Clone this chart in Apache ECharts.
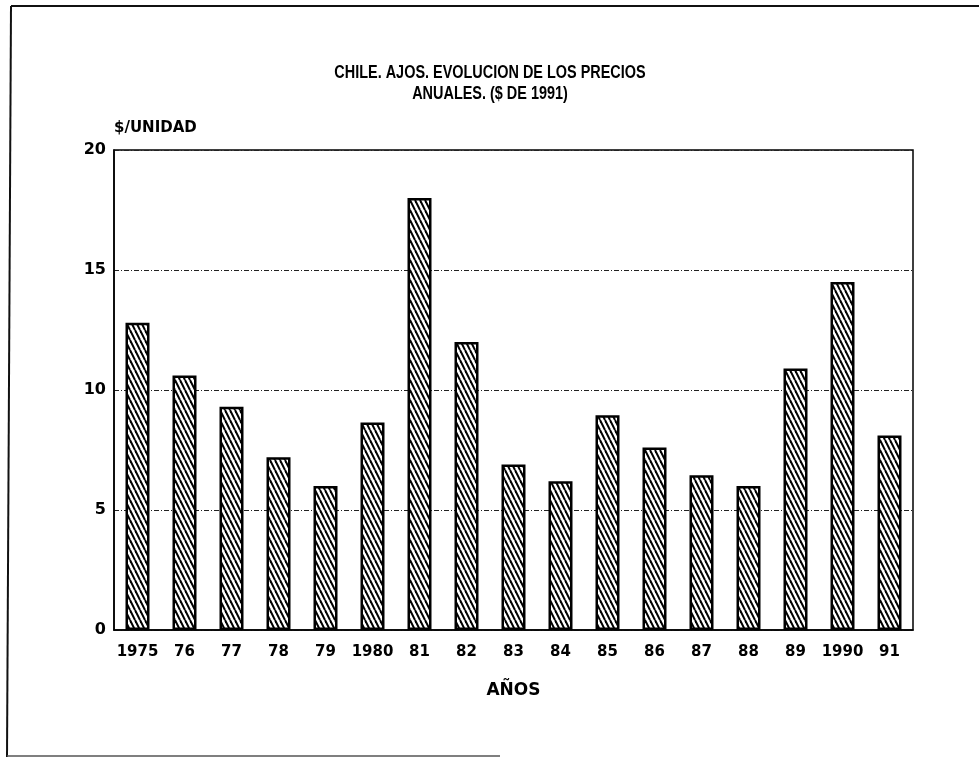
<!DOCTYPE html>
<html>
<head>
<meta charset="utf-8">
<script src="https://cdn.jsdelivr.net/npm/echarts@6/dist/echarts.min.js"></script>
<style>html,body{margin:0;padding:0;background:#fff;}#c{width:979px;height:758px;}</style>
</head>
<body>
<div id="c"></div>
<script>
const categories = ['1975','76','77','78','79','1980','81','82','83','84','85','86','87','88','89','1990','91'];
const prices = [12.8, 10.6, 9.3, 7.2, 6.0, 8.65, 18.0, 12.0, 6.9, 6.2, 8.95, 7.6, 6.45, 6.0, 10.9, 14.5, 8.1];
const yTicks = [0, 5, 10, 15, 20];
const titleLines = ['CHILE. AJOS. EVOLUCION DE LOS PRECIOS', 'ANUALES. ($ DE 1991)'];
const yName = '$/UNIDAD';
const xName = 'AÑOS';

// hatch pattern
function hatch() {
  const w = 5, h = 10;
  const c = document.createElement('canvas');
  c.width = w; c.height = h;
  const g = c.getContext('2d');
  g.fillStyle = '#fff'; g.fillRect(0, 0, w, h);
  g.strokeStyle = '#000'; g.lineWidth = 2;
  for (let k = -1; k <= 1; k++) {
    g.beginPath();
    g.moveTo(k * w, 0);
    g.lineTo(k * w + w, h);
    g.stroke();
  }
  return c;
}

const TFONT = 'bold 19px "Liberation Sans", sans-serif';
const FONT = '"DejaVu Sans", sans-serif';
const chart = echarts.init(document.getElementById('c'), null, {renderer: 'canvas'});
chart.setOption({
  backgroundColor: '#fff',
  animation: false,
  grid: {
    left: 114, right: 66, top: 150, bottom: 128,
    show: true, borderColor: '#000', borderWidth: 1.5, backgroundColor: 'transparent'
  },
  xAxis: {
    type: 'category',
    data: categories,
    name: xName,
    nameLocation: 'middle',
    nameGap: 52,
    nameTextStyle: {fontFamily: FONT, fontWeight: 'bold', fontSize: 17, color: '#000'},
    axisLine: {lineStyle: {color: '#000', width: 1.5}},
    axisTick: {show: false},
    axisLabel: {fontFamily: FONT, fontWeight: 'bold', fontSize: 15, color: '#000', margin: 15, interval: 0}
  },
  yAxis: {
    type: 'value',
    min: 0, max: 20, interval: 5,
    name: yName,
    nameLocation: 'end',
    nameGap: 14,
    nameTextStyle: {fontFamily: FONT, fontWeight: 'bold', fontSize: 15, color: '#000', align: 'left'},
    axisLine: {show: true, lineStyle: {color: '#000', width: 1.5}},
    axisTick: {show: false},
    axisLabel: {
      fontFamily: FONT, fontWeight: 'bold', fontSize: 16, color: '#000', margin: 8,
      formatter: v => (yTicks.indexOf(v) >= 0 ? String(v) : '')
    },
    splitLine: {lineStyle: {color: '#222', width: 1, type: [5, 2, 1, 2]}}
  },
  series: [{
    type: 'bar',
    data: prices,
    barWidth: 24,
    itemStyle: {
      color: {image: hatch(), repeat: 'repeat'},
      borderColor: '#000',
      borderWidth: 2.5
    }
  }],
  graphic: [
    {type: 'text', x: 490, y: 73, scaleX: 0.76,
     style: {text: titleLines[0], font: TFONT, fill: '#000', align: 'center', verticalAlign: 'middle'}},
    {type: 'text', x: 490, y: 94, scaleX: 0.76,
     style: {text: titleLines[1], font: TFONT, fill: '#000', align: 'center', verticalAlign: 'middle'}},
    {type: 'line', shape: {x1: 11, y1: 6, x2: 979, y2: 6}, style: {stroke: '#111', lineWidth: 2}},
    {type: 'line', shape: {x1: 11, y1: 6, x2: 7, y2: 757}, style: {stroke: '#111', lineWidth: 2}},
    {type: 'line', shape: {x1: 7, y1: 756, x2: 500, y2: 756}, style: {stroke: '#555', lineWidth: 1.5}}
  ]
});
</script>
</body>
</html>
